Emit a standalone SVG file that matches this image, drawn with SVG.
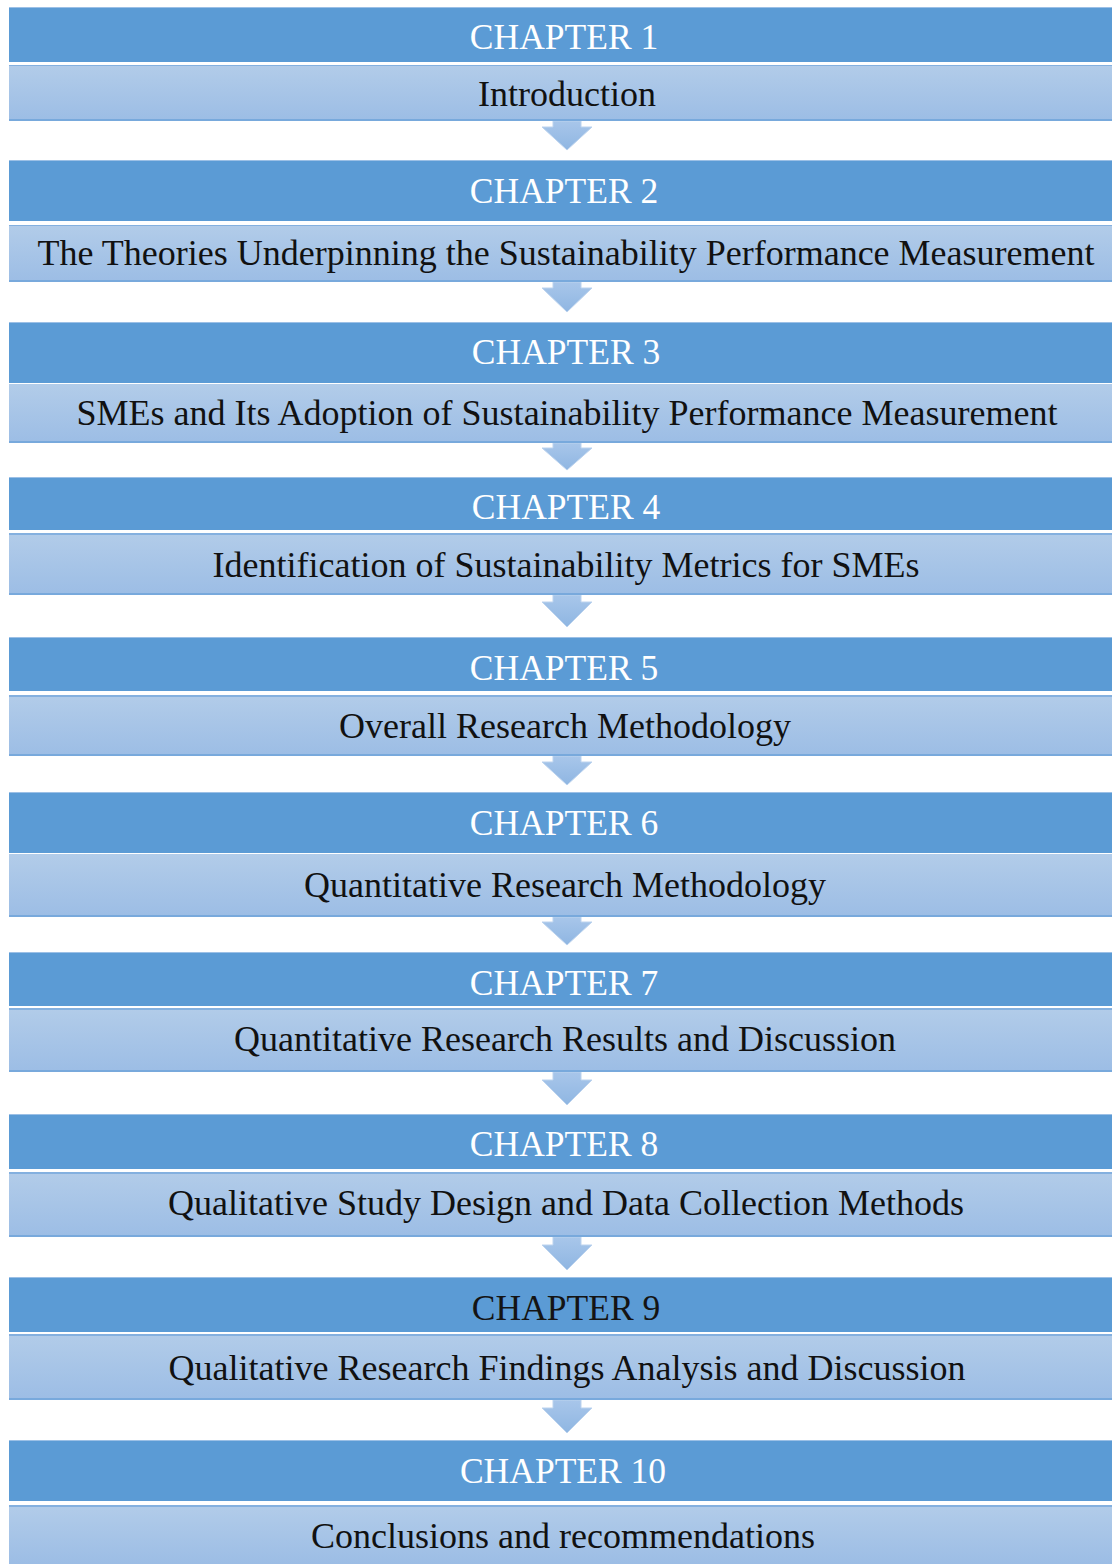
<svg xmlns="http://www.w3.org/2000/svg" width="1112" height="1564" viewBox="0 0 1112 1564">
  <defs>
    <linearGradient id="lightFill" x1="0" y1="0" x2="0" y2="1">
      <stop offset="0" stop-color="#b2cce9"/>
      <stop offset="1" stop-color="#9cbde5"/>
    </linearGradient>
    <linearGradient id="arrowFill" x1="0" y1="0" x2="0" y2="1">
      <stop offset="0" stop-color="#a8c6ea"/>
      <stop offset="1" stop-color="#8fb6e2"/>
    </linearGradient>
    <style>
      .dark { fill: #5b9bd5; }
      .dark-edge { fill: #9cc0e6; }
      .light { fill: url(#lightFill); }
      .light-top { fill: #84b0df; }
      .light-bottom { fill: #78a9dc; }
      .head { font-family: "Liberation Serif", "Times New Roman", serif; font-size: 35.5px; fill: #ffffff; text-anchor: middle; }
      .head.ink { fill: #141414; }
      .title { font-family: "Liberation Serif", "Times New Roman", serif; font-size: 36px; fill: #111111; text-anchor: middle; }
      .arrow { fill: url(#arrowFill); stroke: #bcd3ee; stroke-width: 1; }
    </style>
  </defs>
  <rect width="1112" height="1564" fill="#ffffff"/>

  <!-- down arrows between chapters -->
  <g id="connectors">
    <path class="arrow" d="M553,121 V127 H542 L567,150 L592,127 H581 V121 Z"/>
    <path class="arrow" d="M553,282 V288 H542 L567,312 L592,288 H581 V282 Z"/>
    <path class="arrow" d="M553,443 V448 H542 L567,470 L592,448 H581 V443 Z"/>
    <path class="arrow" d="M553,595 V602 H542 L567,627 L592,602 H581 V595 Z"/>
    <path class="arrow" d="M553,756 V762 H542 L567,785 L592,762 H581 V756 Z"/>
    <path class="arrow" d="M553,917 V922 H542 L567,945 L592,922 H581 V917 Z"/>
    <path class="arrow" d="M553,1072 V1080 H542 L567,1105 L592,1080 H581 V1072 Z"/>
    <path class="arrow" d="M553,1237 V1245 H542 L567,1270 L592,1245 H581 V1237 Z"/>
    <path class="arrow" d="M553,1400 V1408 H542 L567,1433 L592,1408 H581 V1400 Z"/>
  </g>

  <g id="chapter-1">
    <rect class="dark" x="9" y="7" width="1112" height="55"/>
    <rect class="dark-edge" x="9" y="7" width="1112" height="1"/>
    <rect class="light" x="9" y="65" width="1112" height="56"/>
    <rect class="light-top" x="9" y="65" width="1112" height="1"/>
    <rect class="light-bottom" x="9" y="119" width="1112" height="2"/>
    <text class="head" x="564" y="49">CHAPTER 1</text>
    <text class="title" x="567" y="106">Introduction</text>
  </g>

  <g id="chapter-2">
    <rect class="dark" x="9" y="160" width="1112" height="61"/>
    <rect class="dark-edge" x="9" y="160" width="1112" height="1"/>
    <rect class="light" x="9" y="225" width="1112" height="57"/>
    <rect class="light-top" x="9" y="225" width="1112" height="1"/>
    <rect class="light-bottom" x="9" y="280" width="1112" height="2"/>
    <text class="head" x="564" y="203">CHAPTER 2</text>
    <text class="title" x="566" y="265">The Theories Underpinning the Sustainability Performance Measurement</text>
  </g>

  <g id="chapter-3">
    <rect class="dark" x="9" y="322" width="1112" height="61"/>
    <rect class="dark-edge" x="9" y="322" width="1112" height="1"/>
    <rect class="light" x="9" y="384" width="1112" height="59"/>
    <rect class="light-bottom" x="9" y="441" width="1112" height="2"/>
    <text class="head" x="566" y="364">CHAPTER 3</text>
    <text class="title" x="567" y="425">SMEs and Its Adoption of Sustainability Performance Measurement</text>
  </g>

  <g id="chapter-4">
    <rect class="dark" x="9" y="477" width="1112" height="53"/>
    <rect class="dark-edge" x="9" y="477" width="1112" height="1"/>
    <rect class="light" x="9" y="533" width="1112" height="62"/>
    <rect class="light-top" x="9" y="533" width="1112" height="2"/>
    <rect class="light-bottom" x="9" y="593" width="1112" height="2"/>
    <text class="head" x="566" y="519">CHAPTER 4</text>
    <text class="title" x="566" y="577">Identification of Sustainability Metrics for SMEs</text>
  </g>

  <g id="chapter-5">
    <rect class="dark" x="9" y="637" width="1112" height="54"/>
    <rect class="dark-edge" x="9" y="637" width="1112" height="1"/>
    <rect class="light" x="9" y="695" width="1112" height="61"/>
    <rect class="light-top" x="9" y="695" width="1112" height="2"/>
    <rect class="light-bottom" x="9" y="754" width="1112" height="2"/>
    <text class="head" x="564" y="680">CHAPTER 5</text>
    <text class="title" x="565" y="738">Overall Research Methodology</text>
  </g>

  <g id="chapter-6">
    <rect class="dark" x="9" y="792" width="1112" height="61"/>
    <rect class="dark-edge" x="9" y="792" width="1112" height="1"/>
    <rect class="light" x="9" y="854" width="1112" height="63"/>
    <rect class="light-bottom" x="9" y="915" width="1112" height="2"/>
    <text class="head" x="564" y="835">CHAPTER 6</text>
    <text class="title" x="565" y="897">Quantitative Research Methodology</text>
  </g>

  <g id="chapter-7">
    <rect class="dark" x="9" y="952" width="1112" height="54"/>
    <rect class="dark-edge" x="9" y="952" width="1112" height="1"/>
    <rect class="light" x="9" y="1008" width="1112" height="64"/>
    <rect class="light-top" x="9" y="1008" width="1112" height="2"/>
    <rect class="light-bottom" x="9" y="1070" width="1112" height="2"/>
    <text class="head" x="564" y="995">CHAPTER 7</text>
    <text class="title" x="565" y="1051">Quantitative Research Results and Discussion</text>
  </g>

  <g id="chapter-8">
    <rect class="dark" x="9" y="1114" width="1112" height="55"/>
    <rect class="dark-edge" x="9" y="1114" width="1112" height="1"/>
    <rect class="light" x="9" y="1172" width="1112" height="65"/>
    <rect class="light-top" x="9" y="1172" width="1112" height="2"/>
    <rect class="light-bottom" x="9" y="1235" width="1112" height="2"/>
    <text class="head" x="564" y="1156">CHAPTER 8</text>
    <text class="title" x="566" y="1215">Qualitative Study Design and Data Collection Methods</text>
  </g>

  <g id="chapter-9">
    <rect class="dark" x="9" y="1277" width="1112" height="55"/>
    <rect class="dark-edge" x="9" y="1277" width="1112" height="1"/>
    <rect class="light" x="9" y="1334" width="1112" height="66"/>
    <rect class="light-top" x="9" y="1334" width="1112" height="2"/>
    <rect class="light-bottom" x="9" y="1398" width="1112" height="2"/>
    <text class="head ink" x="566" y="1320">CHAPTER 9</text>
    <text class="title" x="567" y="1380">Qualitative Research Findings Analysis and Discussion</text>
  </g>

  <g id="chapter-10">
    <rect class="dark" x="9" y="1440" width="1112" height="61"/>
    <rect class="dark-edge" x="9" y="1440" width="1112" height="1"/>
    <rect class="light" x="9" y="1505" width="1112" height="59"/>
    <rect class="light-top" x="9" y="1505" width="1112" height="2"/>
    <text class="head" x="563" y="1483">CHAPTER 10</text>
    <text class="title" x="563" y="1548">Conclusions and recommendations</text>
  </g>
</svg>
